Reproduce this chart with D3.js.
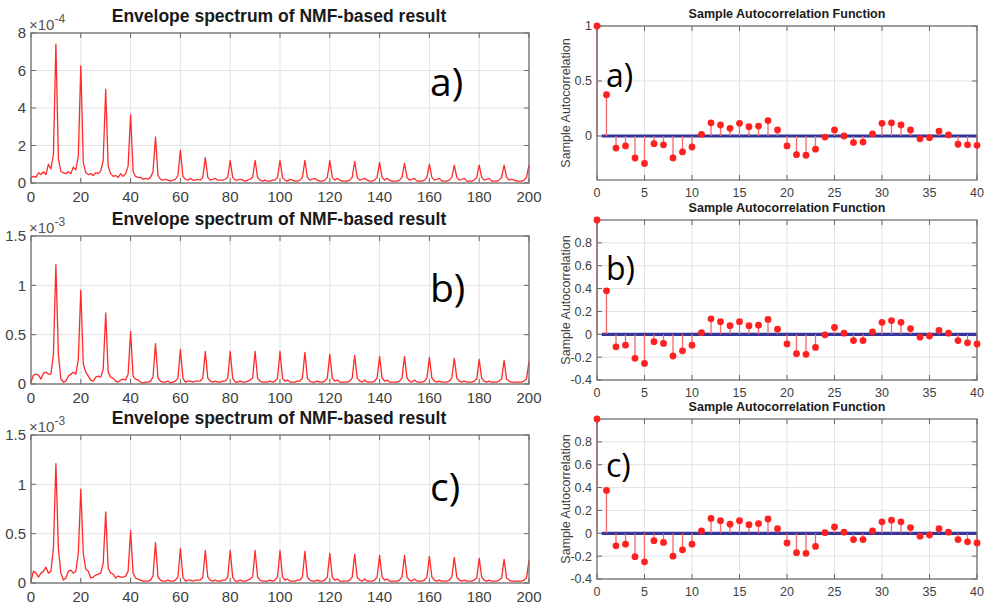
<!DOCTYPE html>
<html>
<head>
<meta charset="utf-8">
<script src="https://cdn.jsdelivr.net/npm/d3@7"></script>
<style>
  body { margin: 0; background: #fff; }
  svg { display: block; }
</style>
</head>
<body>
<svg id="canvas" width="984" height="609"></svg>
<script>
// envelope spectra, one value per Hz from 0 to 200 Hz (a: x1e-4, b/c: x1e-3)
const specA = [
  0.3,0.35,0.3,0.55,0.45,0.6,0.45,1.0,0.75,1.5,
  7.4,1.3,0.6,0.55,0.5,0.6,0.5,0.85,0.7,1.4,
  6.25,1.1,0.55,0.45,0.5,0.4,0.55,0.5,0.65,1.2,
  5.0,0.9,0.5,0.35,0.4,0.3,0.5,0.35,0.5,0.9,
  3.65,0.6,0.35,0.3,0.3,0.2,0.25,0.2,0.3,0.6,
  2.45,0.4,0.2,0.15,0.2,0.15,0.1,0.15,0.2,0.4,
  1.75,0.35,0.2,0.15,0.25,0.15,0.15,0.2,0.15,0.3,
  1.35,0.3,0.15,0.2,0.25,0.15,0.15,0.15,0.2,0.3,
  1.2,0.3,0.15,0.15,0.2,0.15,0.1,0.15,0.2,0.3,
  1.2,0.3,0.15,0.1,0.15,0.1,0.1,0.15,0.15,0.3,
  1.2,0.3,0.15,0.1,0.2,0.15,0.1,0.1,0.15,0.3,
  1.2,0.3,0.15,0.2,0.25,0.15,0.1,0.1,0.15,0.3,
  1.2,0.3,0.15,0.25,0.15,0.1,0.1,0.1,0.15,0.3,
  1.15,0.3,0.15,0.2,0.25,0.15,0.1,0.1,0.15,0.3,
  1.1,0.3,0.15,0.25,0.15,0.1,0.1,0.1,0.15,0.3,
  1.05,0.3,0.15,0.2,0.25,0.1,0.1,0.1,0.15,0.3,
  1.0,0.3,0.15,0.2,0.25,0.1,0.1,0.1,0.15,0.3,
  0.95,0.3,0.15,0.2,0.25,0.1,0.1,0.1,0.15,0.3,
  0.95,0.3,0.15,0.2,0.25,0.1,0.1,0.1,0.15,0.3,
  0.95,0.3,0.15,0.2,0.15,0.1,0.1,0.1,0.15,0.3,
  0.95
];
const specB = [
  0.02,0.09,0.1,0.09,0.05,0.11,0.12,0.1,0.1,0.3,
  1.21,0.3,0.05,0.02,0.03,0.08,0.1,0.12,0.1,0.25,
  0.95,0.2,0.12,0.08,0.04,0.03,0.07,0.08,0.07,0.15,
  0.72,0.12,0.07,0.06,0.03,0.02,0.04,0.05,0.04,0.1,
  0.53,0.08,0.05,0.04,0.02,0.01,0.02,0.02,0.03,0.07,
  0.41,0.06,0.03,0.02,0.02,0.03,0.01,0.02,0.03,0.06,
  0.35,0.06,0.02,0.03,0.03,0.02,0.03,0.03,0.03,0.06,
  0.33,0.06,0.03,0.02,0.03,0.02,0.02,0.03,0.03,0.06,
  0.33,0.06,0.02,0.02,0.03,0.02,0.02,0.03,0.04,0.06,
  0.33,0.06,0.03,0.02,0.02,0.02,0.03,0.02,0.03,0.06,
  0.33,0.06,0.03,0.04,0.02,0.02,0.02,0.03,0.03,0.06,
  0.32,0.06,0.03,0.02,0.02,0.03,0.02,0.02,0.03,0.06,
  0.30,0.06,0.03,0.04,0.02,0.02,0.02,0.02,0.03,0.06,
  0.29,0.06,0.03,0.02,0.04,0.02,0.02,0.02,0.03,0.06,
  0.28,0.06,0.03,0.04,0.02,0.02,0.02,0.02,0.03,0.06,
  0.28,0.06,0.03,0.02,0.04,0.02,0.02,0.02,0.03,0.06,
  0.27,0.06,0.03,0.02,0.03,0.02,0.02,0.02,0.03,0.06,
  0.26,0.06,0.03,0.02,0.03,0.02,0.02,0.02,0.03,0.05,
  0.25,0.06,0.03,0.02,0.03,0.02,0.02,0.02,0.03,0.05,
  0.24,0.05,0.03,0.02,0.02,0.02,0.02,0.02,0.03,0.05,
  0.23
];
const specC = [
  0.02,0.12,0.1,0.06,0.1,0.12,0.16,0.1,0.12,0.35,
  1.21,0.35,0.1,0.03,0.05,0.12,0.13,0.1,0.12,0.3,
  0.95,0.3,0.14,0.12,0.05,0.06,0.08,0.09,0.1,0.2,
  0.72,0.15,0.1,0.09,0.05,0.07,0.06,0.06,0.07,0.12,
  0.53,0.1,0.05,0.04,0.03,0.02,0.02,0.02,0.03,0.07,
  0.41,0.06,0.03,0.02,0.02,0.03,0.02,0.02,0.03,0.06,
  0.35,0.06,0.02,0.03,0.03,0.02,0.03,0.03,0.03,0.06,
  0.33,0.06,0.03,0.02,0.03,0.02,0.02,0.03,0.03,0.06,
  0.33,0.06,0.02,0.02,0.03,0.02,0.02,0.03,0.04,0.06,
  0.33,0.06,0.03,0.02,0.02,0.02,0.03,0.02,0.03,0.06,
  0.33,0.06,0.03,0.04,0.02,0.02,0.02,0.03,0.03,0.06,
  0.32,0.06,0.03,0.02,0.02,0.03,0.02,0.02,0.03,0.06,
  0.30,0.06,0.03,0.04,0.02,0.02,0.02,0.02,0.03,0.06,
  0.29,0.06,0.03,0.02,0.04,0.02,0.02,0.02,0.03,0.06,
  0.28,0.06,0.03,0.04,0.02,0.02,0.02,0.02,0.03,0.06,
  0.28,0.06,0.03,0.02,0.04,0.02,0.02,0.02,0.03,0.06,
  0.27,0.06,0.03,0.02,0.03,0.02,0.02,0.02,0.03,0.06,
  0.26,0.06,0.03,0.02,0.03,0.02,0.02,0.02,0.03,0.05,
  0.25,0.06,0.03,0.02,0.03,0.02,0.02,0.02,0.03,0.05,
  0.24,0.05,0.03,0.02,0.02,0.02,0.02,0.02,0.03,0.05,
  0.23
];

// sample autocorrelation, lags 0..40
const acfA = [1,0.375,-0.11,-0.09,-0.2,-0.25,-0.07,-0.08,-0.2,-0.145,-0.1,
  0.015,0.12,0.1,0.07,0.115,0.085,0.09,0.14,0.055,-0.09,
  -0.17,-0.175,-0.12,-0.01,0.055,0.0,-0.06,-0.055,0.02,0.115,
  0.12,0.1,0.055,-0.025,-0.015,0.045,0.01,-0.075,-0.08,-0.085];
const acfB = [1,0.38,-0.11,-0.095,-0.21,-0.255,-0.065,-0.08,-0.19,-0.145,-0.095,
  0.015,0.135,0.11,0.075,0.11,0.075,0.08,0.13,0.045,-0.085,
  -0.17,-0.175,-0.115,-0.005,0.06,0.01,-0.055,-0.055,0.02,0.105,
  0.12,0.105,0.05,-0.025,-0.015,0.035,0.01,-0.055,-0.075,-0.085];
const acfC = [1,0.375,-0.11,-0.095,-0.205,-0.25,-0.065,-0.08,-0.2,-0.145,-0.095,
  0.02,0.13,0.11,0.08,0.11,0.075,0.085,0.125,0.04,-0.085,
  -0.17,-0.175,-0.115,0.005,0.055,0.01,-0.055,-0.055,0.02,0.1,
  0.115,0.1,0.05,-0.025,-0.015,0.04,0.01,-0.055,-0.075,-0.085];

const specXTicks = [0,20,40,60,80,100,120,140,160,180,200];
const specYTicksA = [0,2,4,6,8];
const specYTicksBC = [0,0.5,1,1.5];
const acfXTicks = [0,5,10,15,20,25,30,35,40];
const acfYTicksA = [0,0.5,1];
const acfYTicksBC = [-0.4,-0.2,0,0.2,0.4,0.6,0.8];

const svg = d3.select("#canvas");
const tickFont = "'Liberation Sans', Arial, sans-serif";
const letterFont = "'Open Sans', 'Noto Sans', sans-serif";

function drawFrame(g, x, y, xTicks, yTicks, fontSize) {
    const [x0, x1] = x.range();
    const [y0, y1] = y.range(); // y0 bottom, y1 top

    g.append("rect")
        .attr("x", x0).attr("y", y1)
        .attr("width", x1 - x0).attr("height", y0 - y1)
        .attr("fill", "#fff");

    g.selectAll(".gx").data(xTicks).enter().append("line")
        .attr("x1", d => x(d)).attr("x2", d => x(d))
        .attr("y1", y1).attr("y2", y0)
        .attr("stroke", "#e3e3e3").attr("stroke-width", 1);
    g.selectAll(".gy").data(yTicks).enter().append("line")
        .attr("x1", x0).attr("x2", x1)
        .attr("y1", d => y(d)).attr("y2", d => y(d))
        .attr("stroke", "#e3e3e3").attr("stroke-width", 1);

    // small inner ticks on all four sides
    xTicks.forEach(d => {
        g.append("line").attr("x1", x(d)).attr("x2", x(d)).attr("y1", y0).attr("y2", y0 - 5).attr("stroke", "#666");
        g.append("line").attr("x1", x(d)).attr("x2", x(d)).attr("y1", y1).attr("y2", y1 + 5).attr("stroke", "#666");
    });
    yTicks.forEach(d => {
        g.append("line").attr("x1", x0).attr("x2", x0 + 5).attr("y1", y(d)).attr("y2", y(d)).attr("stroke", "#666");
        g.append("line").attr("x1", x1).attr("x2", x1 - 5).attr("y1", y(d)).attr("y2", y(d)).attr("stroke", "#666");
    });

    g.selectAll(".lx").data(xTicks).enter().append("text")
        .attr("x", d => x(d)).attr("y", y0 + fontSize + 4)
        .attr("text-anchor", "middle")
        .attr("font-family", tickFont).attr("font-size", fontSize)
        .attr("fill", "#404040")
        .text(d => d);
    g.selectAll(".ly").data(yTicks).enter().append("text")
        .attr("x", x0 - 5).attr("y", d => y(d))
        .attr("dy", "0.35em")
        .attr("text-anchor", "end")
        .attr("font-family", tickFont).attr("font-size", fontSize)
        .attr("fill", "#404040")
        .text(d => d);
}

function drawBox(g, x, y) {
    const [x0, x1] = x.range();
    const [y0, y1] = y.range();
    g.append("rect")
        .attr("x", x0).attr("y", y1)
        .attr("width", x1 - x0).attr("height", y0 - y1)
        .attr("fill", "none")
        .attr("stroke", "#707070").attr("stroke-width", 1.3);
}

function drawSpectrum(cfg) {
    const g = svg.append("g");
    const x = d3.scaleLinear().domain([0, 200]).range([31, 529]);
    const y = d3.scaleLinear().domain([0, cfg.yMax]).range([cfg.bottom, cfg.top]);

    drawFrame(g, x, y, specXTicks, cfg.yTicks, 15);

    const line = d3.line()
        .x((d, i) => x(i))
        .y(d => y(d));

    g.append("path")
        .datum(cfg.values)
        .attr("d", line)
        .attr("fill", "none")
        .attr("stroke", "#ff2a2a")
        .attr("stroke-width", 1.3)
        .attr("stroke-linejoin", "round");

    drawBox(g, x, y);

    g.append("text")
        .attr("x", 279).attr("y", cfg.top - 11)
        .attr("text-anchor", "middle")
        .attr("font-family", tickFont).attr("font-weight", "bold")
        .attr("font-size", 17.5).attr("fill", "#1a1a1a")
        .text("Envelope spectrum of NMF-based result");

    const expo = g.append("text")
        .attr("x", 29).attr("y", cfg.top - 3)
        .attr("font-family", tickFont).attr("font-size", 15)
        .attr("fill", "#555");
    expo.append("tspan").text("\u00d710");
    expo.append("tspan").attr("dy", -7).attr("font-size", 12).text(cfg.exponent);

    g.append("text")
        .attr("x", 430).attr("y", cfg.letterY)
        .attr("font-family", letterFont).attr("font-size", 39)
        .attr("fill", "#000")
        .text(cfg.letter);
}

function drawAcf(cfg) {
    const g = svg.append("g");
    const x = d3.scaleLinear().domain([0, 40]).range([597, 977]);
    const y = d3.scaleLinear().domain([-0.4, 1]).range([cfg.bottom, cfg.top]);

    drawFrame(g, x, y, acfXTicks, cfg.yTicks, 12.5);

    // confidence band drawn as a thick blue line at zero
    g.append("line")
        .attr("x1", x(0.5)).attr("x2", x(40))
        .attr("y1", y(0)).attr("y2", y(0))
        .attr("stroke", "#35359a").attr("stroke-width", 3.2);

    g.selectAll(".stem").data(cfg.values).enter().append("line")
        .attr("x1", (d, i) => x(i)).attr("x2", (d, i) => x(i))
        .attr("y1", y(0)).attr("y2", d => y(d))
        .attr("stroke", "#f26a6a").attr("stroke-width", 1.3);

    drawBox(g, x, y);

    g.selectAll(".dot").data(cfg.values).enter().append("circle")
        .attr("cx", (d, i) => x(i))
        .attr("cy", d => y(d))
        .attr("r", 3.4)
        .attr("fill", "#ff2020");

    g.append("text")
        .attr("x", 787).attr("y", cfg.top - 8)
        .attr("text-anchor", "middle")
        .attr("font-family", tickFont).attr("font-weight", "bold")
        .attr("font-size", 12.5).attr("fill", "#1a1a1a")
        .text("Sample Autocorrelation Function");

    g.append("text")
        .attr("transform", `translate(570, ${(cfg.top + cfg.bottom) / 2}) rotate(-90)`)
        .attr("text-anchor", "middle")
        .attr("font-family", tickFont).attr("font-size", 12.5)
        .attr("fill", "#404040")
        .text("Sample Autocorrelation");

    g.append("text")
        .attr("x", 606).attr("y", cfg.letterY)
        .attr("font-family", letterFont).attr("font-size", 32)
        .attr("fill", "#000")
        .text(cfg.letter);
}

drawSpectrum({ values: specA, yMax: 8, yTicks: specYTicksA, top: 33, bottom: 183, exponent: "-4", letter: "a)", letterY: 96 });
drawSpectrum({ values: specB, yMax: 1.5, yTicks: specYTicksBC, top: 236, bottom: 384, exponent: "-3", letter: "b)", letterY: 302 });
drawSpectrum({ values: specC, yMax: 1.5, yTicks: specYTicksBC, top: 435, bottom: 583, exponent: "-3", letter: "c)", letterY: 501 });

drawAcf({ values: acfA, yTicks: acfYTicksA, top: 26, bottom: 180, letter: "a)", letterY: 87 });
drawAcf({ values: acfB, yTicks: acfYTicksBC, top: 220, bottom: 380, letter: "b)", letterY: 280 });
drawAcf({ values: acfC, yTicks: acfYTicksBC, top: 419, bottom: 579, letter: "c)", letterY: 477 });
</script>
</body>
</html>
